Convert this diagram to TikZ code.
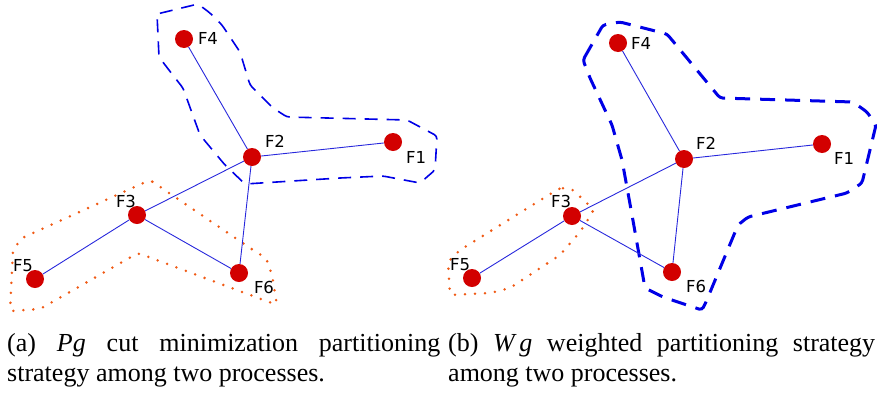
\documentclass[tikz,border=0pt]{standalone}
\usepackage{fontspec}
\setmainfont{Liberation Serif}
\setsansfont{DejaVu Sans}
\definecolor{nodered}{RGB}{210,0,0}
\definecolor{edgeblue}{RGB}{40,40,220}
\definecolor{partblue}{RGB}{0,0,230}
\definecolor{partorange}{RGB}{240,90,20}
\tolerance=10000
\hbadness=10000
\begin{document}
\begin{tikzpicture}[x=1pt,y=-1pt]

    \tikzset{nodestyle/.style={shape=circle,fill=nodered,inner sep=0pt,minimum size=18pt}}
    \tikzset{labelstyle/.style={inner sep=0pt,font=\sffamily\fontsize{16.5}{18}\selectfont}}
    \tikzset{captionstyle/.style={inner sep=0pt,anchor=north west,align=justify,
        font=\fontsize{26}{30}\selectfont}}
    \tikzset{thinpart/.style={draw=partblue,line width=1.6pt,dash pattern=on 13pt off 9pt,rounded corners=3pt}}
    \tikzset{thickpart/.style={draw=partblue,line width=3pt,dash pattern=on 15pt off 10pt,rounded corners=3pt}}
    \tikzset{dotpart/.style={draw=partorange,line width=2.8pt,dash pattern=on 0pt off 10pt,line cap=round,rounded corners=3pt}}

    \useasboundingbox (0,0) rectangle (877,394);

    \draw[thinpart] (157,14) -- (198,4) -- (210,13) -- (222,25) -- (240,52) -- (250,85) -- (273,108)
        -- (287,117) -- (407,120) -- (437,136) -- (435,170) -- (420,183) -- (383,176) -- (340,178)
        -- (245,184) -- (225,165) -- (200,135) -- (183,88) -- (172,74) -- (159,57) -- cycle;
    \draw[dotpart] (150,180) -- (253,250) -- (266,258) -- (272,275) -- (277,305) -- (138,253)
        -- (40,309) -- (10,311) -- (13,250) -- (22,238) -- cycle;

    \draw[thickpart] (583,60) -- (603,25) -- (620,22) -- (667,34) -- (720,98) -- (853,102) -- (867,112)
        -- (876,125) -- (862,183) -- (847,193) -- (748,217) -- (738,225) -- (706,302) -- (702,310)
        -- (663,297) -- (645,288) -- (632,215) -- (622,160) -- (612,125) -- (590,78) -- cycle;
    \draw[dotpart] (560,188) -- (572,189) -- (594,210) -- (580,232) -- (560,255) -- (510,288)
        -- (490,293) -- (450,295) -- (448,262) -- (460,250) -- cycle;

    \node[nodestyle] (a1) at (393,142) {};
    \node[nodestyle] (a2) at (252,157) {};
    \node[nodestyle] (a3) at (137,215) {};
    \node[nodestyle] (a4) at (184,39) {};
    \node[nodestyle] (a5) at (35,279) {};
    \node[nodestyle] (a6) at (239,273) {};

    \node[labelstyle] (la1) at (416,157) {F1};
    \node[labelstyle] (la2) at (275,141) {F2};
    \node[labelstyle] (la3) at (126,201) {F3};
    \node[labelstyle] (la4) at (208,38) {F4};
    \node[labelstyle] (la5) at (23,266) {F5};
    \node[labelstyle] (la6) at (264,287) {F6};

    \node[nodestyle] (b1) at (822,144) {};
    \node[nodestyle] (b2) at (684,159) {};
    \node[nodestyle] (b3) at (572,216) {};
    \node[nodestyle] (b4) at (618,43) {};
    \node[nodestyle] (b5) at (472,278) {};
    \node[nodestyle] (b6) at (672,272) {};

    \node[labelstyle] (lb1) at (844,158) {F1};
    \node[labelstyle] (lb2) at (706,143) {F2};
    \node[labelstyle] (lb3) at (561,201) {F3};
    \node[labelstyle] (lb4) at (641,43) {F4};
    \node[labelstyle] (lb5) at (460,265) {F5};
    \node[labelstyle] (lb6) at (696,286) {F6};

    \begin{scope}[every path/.style={draw=edgeblue,line width=0.9pt}]
        \draw (a4) -- (a2);
        \draw (a2) -- (a1);
        \draw (a2) -- (a3);
        \draw (a3) -- (a5);
        \draw (a3) -- (a6);
        \draw (a2) -- (a6);
        \draw (b4) -- (b2);
        \draw (b2) -- (b1);
        \draw (b2) -- (b3);
        \draw (b3) -- (b5);
        \draw (b3) -- (b6);
        \draw (b2) -- (b6);
    \end{scope}

    \node[captionstyle,text width=433pt] (ca) at (7,333.5)
        {(a) \textit{Pg} cut minimization partitioning\linebreak strategy among two processes.};
    \node[captionstyle,text width=427pt] (cb) at (448,333.5)
        {(b) \textit{W\kern4.5pt g} weighted partitioning strategy\linebreak among two processes.};
\end{tikzpicture}
\end{document}
